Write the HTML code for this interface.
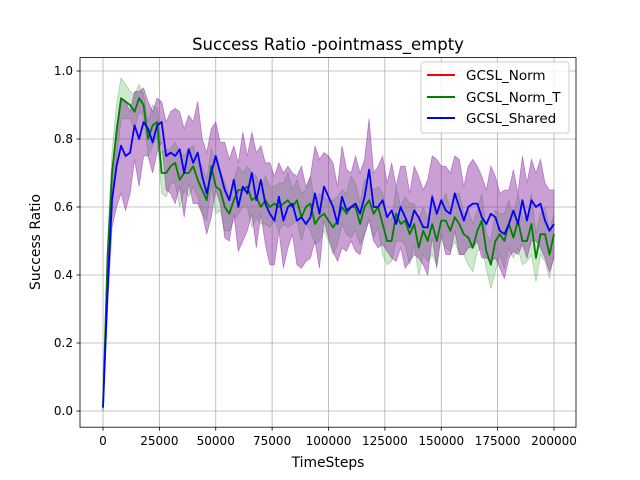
<!DOCTYPE html>
<html><head><meta charset="utf-8"><style>
body{margin:0;background:#fff;}
svg{display:block;font-family:"DejaVu Sans","Liberation Sans",sans-serif;}
</style></head><body>
<svg id="chart" width="640" height="480" viewBox="0 0 640 480" xmlns="http://www.w3.org/2000/svg">
<rect x="0" y="0" width="640" height="480" fill="#fff"/>
<g id="grid"></g>
<g id="bands"></g>
<g id="lines"></g>
<g id="axes"></g>
<text x="328" y="50" text-anchor="middle" font-size="16.5">Success Ratio -pointmass_empty</text>
<text x="328" y="467" text-anchor="middle" font-size="13.9">TimeSteps</text>
<text transform="translate(40,242) rotate(-90)" text-anchor="middle" font-size="13.9">Success Ratio</text>
<g>
<rect x="421" y="62" width="148" height="71" rx="3" fill="#fff" fill-opacity="0.8" stroke="#ccc"/>
<line x1="427" y1="75" x2="455" y2="75" stroke="#ff0000" stroke-width="2"/>
<text x="466" y="80" font-size="13.5">GCSL_Norm</text>
<line x1="427" y1="97" x2="455" y2="97" stroke="#008000" stroke-width="2"/>
<text x="466" y="102" font-size="13.5">GCSL_Norm_T</text>
<line x1="427" y1="118" x2="455" y2="118" stroke="#0000ff" stroke-width="2"/>
<text x="466" y="123" font-size="13.5">GCSL_Shared</text>
</g>
</svg>
<script>
const xTicks=[0,25000,50000,75000,100000,125000,150000,175000,200000];
const yTicks=[0.0,0.2,0.4,0.6,0.8,1.0];
const yTickLabels=["0.0","0.2","0.4","0.6","0.8","1.0"];
const maxStep=200000;
const sharedMean=[0.01,0.35,0.62,0.72,0.78,0.75,0.76,0.84,0.80,0.85,0.83,0.79,0.84,0.85,0.75,0.76,0.75,0.77,0.70,0.77,0.73,0.76,0.69,0.64,0.70,0.75,0.70,0.65,0.62,0.68,0.60,0.66,0.64,0.70,0.62,0.68,0.61,0.58,0.56,0.63,0.56,0.60,0.61,0.56,0.57,0.55,0.57,0.64,0.58,0.66,0.63,0.60,0.55,0.63,0.59,0.60,0.61,0.58,0.63,0.71,0.60,0.60,0.62,0.57,0.59,0.55,0.60,0.57,0.54,0.59,0.57,0.54,0.54,0.63,0.58,0.62,0.59,0.58,0.64,0.60,0.56,0.60,0.61,0.61,0.57,0.55,0.58,0.57,0.53,0.52,0.55,0.59,0.55,0.62,0.56,0.62,0.60,0.61,0.56,0.53,0.55];
const sharedSpread=[0.01,0.05,0.08,0.12,0.14,0.16,0.12,0.10,0.14,0.10,0.08,0.09,0.08,0.06,0.10,0.12,0.14,0.11,0.13,0.10,0.12,0.15,0.11,0.12,0.13,0.10,0.09,0.14,0.12,0.10,0.13,0.16,0.11,0.12,0.14,0.10,0.12,0.15,0.13,0.10,0.14,0.12,0.09,0.13,0.15,0.11,0.12,0.14,0.16,0.10,0.12,0.13,0.11,0.15,0.12,0.10,0.14,0.12,0.11,0.15,0.10,0.12,0.13,0.10,0.14,0.11,0.12,0.15,0.10,0.13,0.12,0.11,0.14,0.12,0.16,0.10,0.13,0.12,0.11,0.14,0.10,0.12,0.13,0.11,0.12,0.10,0.14,0.12,0.11,0.13,0.10,0.12,0.09,0.13,0.11,0.12,0.10,0.13,0.11,0.12,0.10];
const normTMean=[0.01,0.45,0.70,0.82,0.92,0.91,0.90,0.88,0.92,0.90,0.80,0.84,0.85,0.70,0.70,0.72,0.73,0.68,0.70,0.70,0.72,0.68,0.65,0.62,0.72,0.66,0.65,0.60,0.58,0.62,0.65,0.65,0.66,0.62,0.63,0.60,0.62,0.60,0.61,0.60,0.61,0.62,0.60,0.62,0.57,0.60,0.61,0.55,0.57,0.58,0.56,0.54,0.56,0.60,0.58,0.60,0.60,0.55,0.60,0.62,0.58,0.60,0.55,0.50,0.50,0.58,0.55,0.56,0.52,0.55,0.48,0.53,0.50,0.55,0.50,0.56,0.56,0.53,0.57,0.55,0.52,0.51,0.48,0.53,0.56,0.47,0.43,0.50,0.52,0.50,0.55,0.51,0.56,0.50,0.50,0.55,0.45,0.52,0.52,0.46,0.52];
const normTSpread=[0.01,0.04,0.06,0.08,0.06,0.05,0.04,0.05,0.04,0.03,0.05,0.06,0.04,0.06,0.07,0.05,0.06,0.08,0.05,0.07,0.06,0.05,0.07,0.06,0.05,0.08,0.06,0.07,0.05,0.06,0.07,0.05,0.06,0.08,0.06,0.05,0.07,0.06,0.05,0.07,0.06,0.08,0.05,0.06,0.07,0.05,0.08,0.06,0.07,0.05,0.06,0.08,0.07,0.05,0.06,0.09,0.07,0.06,0.08,0.05,0.07,0.06,0.09,0.07,0.06,0.08,0.05,0.07,0.09,0.06,0.08,0.07,0.06,0.09,0.07,0.05,0.08,0.06,0.07,0.09,0.06,0.08,0.07,0.06,0.08,0.05,0.07,0.09,0.06,0.08,0.07,0.06,0.08,0.07,0.06,0.09,0.07,0.06,0.08,0.07,0.06];

const NS="http://www.w3.org/2000/svg";
const L=80,R=576,T=57.6,B=427.2;
const xs=v=>103+v*(451/200000);
const ys=v=>411-v*340;
function mk(tag,attrs,parent){const e=document.createElementNS(NS,tag);for(const k in attrs)e.setAttribute(k,attrs[k]);document.getElementById(parent).appendChild(e);return e;}
const stepOf=(i,n)=>i*maxStep/(n-1);

xTicks.forEach(t=>{
  const g=mk('line',{x1:xs(t),x2:xs(t),y1:T,y2:B,stroke:'#b0b0b0','stroke-width':0.8},'grid');
  
  
  const tk=mk('line',{x1:xs(t),x2:xs(t),y1:B,y2:B+3.5,stroke:'#000','stroke-width':0.8},'axes');
  
  
  const lb=mk('text',{x:xs(t),y:B+18,'text-anchor':'middle','font-size':12},'axes');
  
  
  lb.textContent=String(t);
});
yTicks.forEach((t,i)=>{
  const g=mk('line',{x1:L,x2:R,y1:ys(t),y2:ys(t),stroke:'#b0b0b0','stroke-width':0.8},'grid');
  
  
  const tk=mk('line',{x1:L-3.5,x2:L,y1:ys(t),y2:ys(t),stroke:'#000','stroke-width':0.8},'axes');
  
  
  const lb=mk('text',{x:L-7,y:ys(t)+4,'text-anchor':'end','font-size':12},'axes');
  
  
  lb.textContent=yTickLabels[i];
});
const frame=mk('rect',{x:L,y:T,width:R-L,height:B-T,fill:'none',stroke:'#000','stroke-width':0.8},'axes');



function band(mean,spread,fill,stroke,op,name){
  const n=mean.length;let up=[],lo=[];
  for(let i=0;i<n;i++){up.push(xs(stepOf(i,n))+','+ys(mean[i]+spread[i]));lo.unshift(xs(stepOf(i,n))+','+ys(mean[i]-spread[i]));}
  const p=mk('polygon',{points:up.concat(lo).join(' '),fill:fill,'fill-opacity':op,stroke:stroke,'stroke-opacity':0.5,'stroke-width':0.8},'bands');
  
  
}
function line(mean,color,name){
  const n=mean.length;const pts=mean.map((v,i)=>xs(stepOf(i,n))+','+ys(v)).join(' ');
  const p=mk('polyline',{points:pts,fill:'none',stroke:color,'stroke-width':1.8,'stroke-linejoin':'round'},'lines');
  
  
}
band(normTMean,normTSpread,'#90d090','#60b060',0.45,'gcsl-norm-t-band');
band(sharedMean,sharedSpread,'#8a2ba0','#8a2ba0',0.45,'gcsl-shared-band');
line(normTMean,'#008000','gcsl-norm-t-line');
line(sharedMean,'#0000ff','gcsl-shared-line');
</script>
</body></html>
